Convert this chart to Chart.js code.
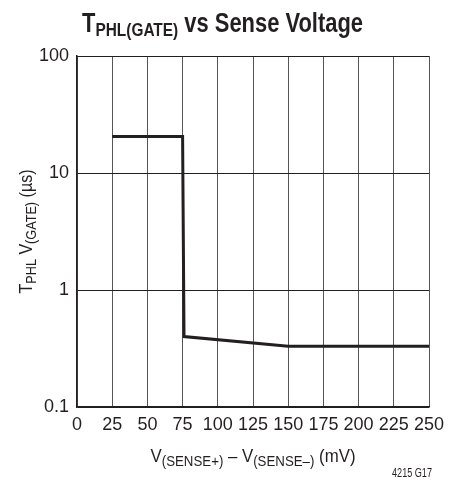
<!DOCTYPE html>
<html>
<head>
<meta charset="utf-8">
<script src="https://cdn.jsdelivr.net/npm/chart.js@4.4.0/dist/chart.umd.min.js"></script>
<style>
  html, body { margin: 0; padding: 0; background: #fff; }
  #wrap { position: relative; width: 462px; height: 491px; }
</style>
</head>
<body>
<div id="wrap"><canvas id="tphlChart"></canvas></div>
<script>
const FONT = '"Liberation Sans", Arial, sans-serif';
const INK = '#231f20';

// sense voltage (mV) and propagation delay (us)
const senseMv = [25, 75, 76, 150, 250];
const tphlUs = [20.5, 20.5, 0.4, 0.33, 0.33];
const xTicks = [0, 25, 50, 75, 100, 125, 150, 175, 200, 225, 250];
const yTicks = [0.1, 1, 10, 100];

const points = senseMv.map((v, i) => ({ x: v, y: tphlUs[i] }));

// text runs with subscripts: [[text, isSub], ...], squeezed to a target width
function runsWidth(ctx, runs, size, subSize, weight) {
  let w = 0;
  runs.forEach(r => {
    ctx.font = weight + ' ' + (r[1] ? subSize : size) + 'px ' + FONT;
    w += ctx.measureText(r[0]).width;
  });
  return w;
}
function drawRuns(ctx, runs, left, y, target, size, subSize, weight, drop) {
  const w = runsWidth(ctx, runs, size, subSize, weight);
  const s = target / w;
  ctx.save();
  ctx.translate(left, y);
  ctx.scale(s, 1);
  let cx = 0;
  runs.forEach(r => {
    ctx.font = weight + ' ' + (r[1] ? subSize : size) + 'px ' + FONT;
    ctx.fillText(r[0], cx, r[1] ? drop : 0);
    cx += ctx.measureText(r[0]).width;
  });
  ctx.restore();
}

const labelsPlugin = {
  id: 'labelsPlugin',
  afterDraw(chart) {
    const { ctx, chartArea: { left, right, top, bottom } } = chart;
    ctx.save();
    ctx.fillStyle = INK;
    ctx.textBaseline = 'alphabetic';
    ctx.textAlign = 'left';

    // title
    const title = [['T', false], ['PHL(GATE)', true], [' vs Sense Voltage', false]];
    drawRuns(ctx, title, 82, 32, 281, 27, 19, 'bold', 4);

    // x axis title
    const xt = [['V', false], ['(SENSE+)', true], [' \u2013 V', false], ['(SENSE\u2013)', true], [' (mV)', false]];
    const xw = 205;
    drawRuns(ctx, xt, (left + right) / 2 - xw / 2, 462, xw, 19, 15, 'normal', 4);

    // y axis title
    const yt = [['T', false], ['PHL', true], [' V', false], ['(GATE)', true], [' (\u00b5s)', false]];
    const yw = 124;
    ctx.save();
    ctx.translate(32, (top + bottom) / 2);
    ctx.rotate(-Math.PI / 2);
    drawRuns(ctx, yt, -yw / 2, 0, yw, 19, 15, 'normal', 4);
    ctx.restore();

    // figure number
    drawRuns(ctx, [['4215 G17', false]], 392, 477, 40, 12, 12, 'normal', 0);
    ctx.restore();
  }
};

new Chart(document.getElementById('tphlChart'), {
  type: 'line',
  data: {
    datasets: [{
      data: points,
      borderColor: INK,
      borderWidth: 3,
      pointRadius: 0,
      tension: 0,
      fill: false
    }]
  },
  plugins: [labelsPlugin],
  options: {
    responsive: true,
    maintainAspectRatio: false,
    animation: false,
    layout: { padding: { top: 56, right: 33, bottom: 0, left: 0 } },
    plugins: {
      legend: { display: false },
      tooltip: { enabled: false },
      title: { display: false }
    },
    scales: {
      x: {
        type: 'linear',
        min: 0,
        max: 250,
        afterBuildTicks: (scale) => { scale.ticks = xTicks.map(v => ({ value: v })); },
        afterFit: (scale) => { scale.height = 84; },
        ticks: {
          color: INK,
          font: { family: FONT, size: 18 },
          padding: 7,
          maxRotation: 0,
          autoSkip: false
        },
        grid: { color: '#555', lineWidth: 1, drawTicks: false },
        border: { color: INK, width: 1.5 }
      },
      y: {
        type: 'logarithmic',
        min: 0.1,
        max: 100,
        afterBuildTicks: (scale) => { scale.ticks = yTicks.map(v => ({ value: v })); },
        afterFit: (scale) => { scale.width = 77; },
        ticks: {
          color: INK,
          font: { family: FONT, size: 18 },
          padding: 8,
          callback: (v) => String(v)
        },
        grid: { color: INK, lineWidth: 1, drawTicks: false },
        border: { color: INK, width: 1.5 }
      }
    }
  }
});
</script>
</body>
</html>
